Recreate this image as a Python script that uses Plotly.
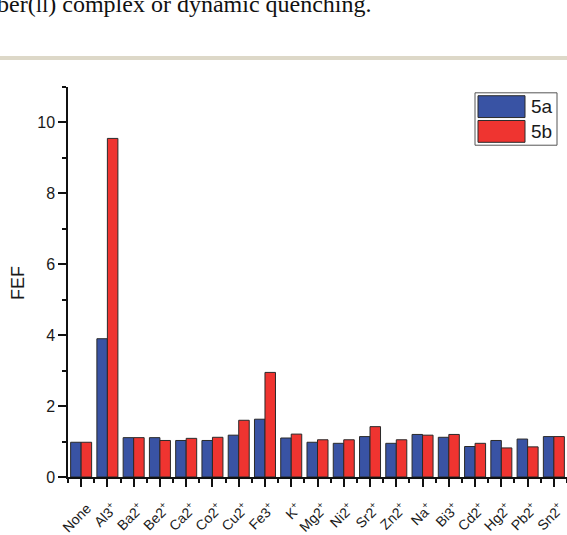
import plotly.graph_objects as go

categories = ["None", "Al3+", "Ba2+", "Be2+", "Ca2+", "Co2+", "Cu2+", "Fe3+", "K+", "Mg2+",
              "Ni2+", "Sr2+", "Zn2+", "Na+", "Bi3+", "Cd2+", "Hg2+", "Pb2+", "Sn2+"]
fef_5a = [0.98, 3.90, 1.11, 1.11, 1.03, 1.03, 1.18, 1.63, 1.10, 0.98,
          0.95, 1.14, 0.95, 1.20, 1.12, 0.86, 1.03, 1.07, 1.14]
fef_5b = [0.98, 9.55, 1.11, 1.03, 1.09, 1.12, 1.60, 2.95, 1.21, 1.05,
          1.05, 1.42, 1.05, 1.18, 1.20, 0.95, 0.82, 0.85, 1.14]
series_names = ["5a", "5b"]
y_ticks = [0, 2, 4, 6, 8, 10]

BLUE = "#3953a4"
RED = "#ef3430"
EDGE = "#2a2a2a"

W, H = 567, 535
ML, MR, MT, MB = 68, 0, 87, 46
PW = W - ML - MR
PH = H - MT - MB


def px(xp):
    return (xp - ML) / PW


def py(yp):
    return (H - MB - yp) / PH


def label(c):
    if c == "None":
        return c
    return c[:-1] + "<sup>+</sup>"


xs = list(range(len(categories)))

fig = go.Figure()
for name, vals, col in [(series_names[0], fef_5a, BLUE), (series_names[1], fef_5b, RED)]:
    fig.add_trace(go.Bar(
        x=xs, y=vals, name=name, showlegend=False,
        marker=dict(color=col, line=dict(color=EDGE, width=1)),
    ))

axis_font = dict(family="Liberation Sans, Arial, sans-serif", color="#1a1a1a")

fig.update_layout(
    width=W, height=H,
    margin=dict(l=ML, r=MR, t=MT, b=MB, pad=0),
    paper_bgcolor="white", plot_bgcolor="white",
    barmode="group", bargap=0.2, bargroupgap=0,
    xaxis=dict(
        range=[-0.5, len(categories) - 0.5],
        tickmode="array", tickvals=xs, ticktext=[label(c) for c in categories],
        tickangle=-45, ticks="outside", ticklen=8, tickwidth=1.5, tickcolor="#111",
        ticklabelstandoff=8, ticklabelshift=6, ticklabeloverflow="allow",
        showline=True, linecolor="#111", linewidth=1.5,
        showgrid=False, zeroline=False,
        tickfont=dict(size=14, **axis_font),
        minor=dict(tickmode="array", tickvals=[i - 0.5 for i in range(len(categories) + 1)],
                   ticks="outside", ticklen=4, tickwidth=1.5, tickcolor="#111", showgrid=False),
    ),
    yaxis=dict(
        range=[0, 11],
        tickmode="array", tickvals=y_ticks,
        ticks="outside", ticklen=8, tickwidth=1.5, tickcolor="#111",
        showline=True, linecolor="#111", linewidth=1.5,
        showgrid=False, zeroline=False,
        tickfont=dict(size=16, **axis_font),
        minor=dict(tickmode="linear", tick0=0, dtick=1, ticks="outside", ticklen=4,
                   tickwidth=1.5, tickcolor="#111", showgrid=False),
    ),
)

shapes = []
annotations = []

# page separator line
shapes.append(dict(type="line", xref="paper", yref="paper",
                   x0=px(0), x1=px(W), y0=py(57), y1=py(57),
                   line=dict(color="#ddd8c8", width=4)))

# legend box
shapes.append(dict(type="rect", xref="paper", yref="paper",
                   x0=px(475), x1=px(557), y0=py(93), y1=py(147),
                   line=dict(color="#555", width=1), fillcolor="white"))
for i, (name, col) in enumerate([(series_names[0], BLUE), (series_names[1], RED)]):
    top = 96 + i * 25.5
    shapes.append(dict(type="rect", xref="paper", yref="paper",
                       x0=px(478), x1=px(525), y0=py(top), y1=py(top + 22.5),
                       line=dict(color=EDGE, width=1), fillcolor=col))
    annotations.append(dict(text=name, xref="paper", yref="paper",
                            x=px(529), y=py(top + 11.5), xanchor="left", yanchor="middle",
                            showarrow=False, font=dict(size=19, **axis_font)))

# y-axis title
annotations.append(dict(text="FEF", xref="paper", yref="paper", x=px(18), y=py(289),
                        xanchor="center", yanchor="middle", textangle=-90, showarrow=False,
                        font=dict(size=18, **axis_font)))

# cut-off caption text from the page
annotations.append(dict(text="ber(<span style='font-size:19px'>II</span>) complex or dynamic quenching.",
                        xref="paper", yref="paper", x=px(-5), y=py(1),
                        xanchor="left", yanchor="middle", showarrow=False,
                        font=dict(size=24, family="Liberation Serif, Times New Roman, serif",
                                  color="#111")))

fig.update_layout(shapes=shapes, annotations=annotations)
fig.write_html("out.html", config={"displayModeBar": False},
               post_script="document.body.style.margin='0';document.body.style.overflow='hidden';")
